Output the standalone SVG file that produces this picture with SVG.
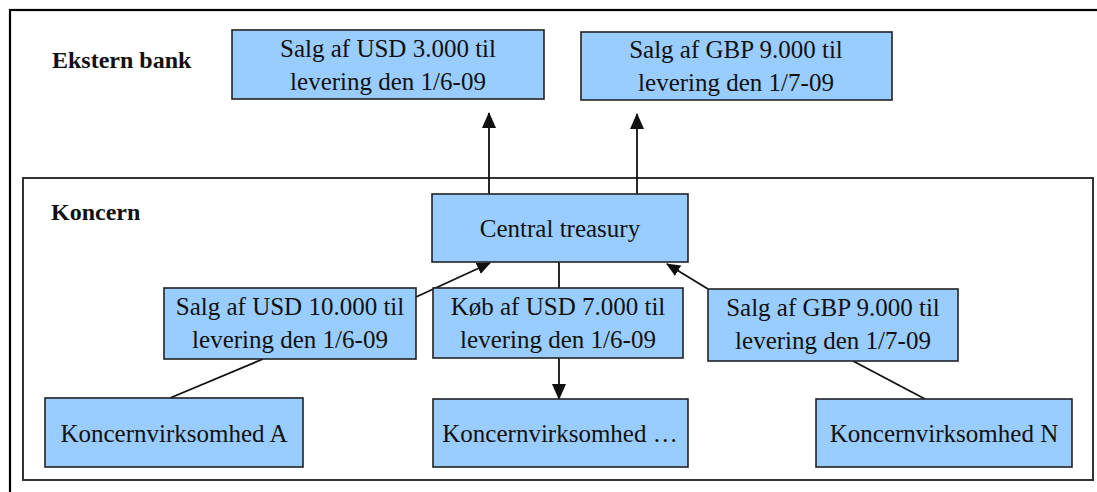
<svg xmlns="http://www.w3.org/2000/svg" width="1097" height="492" viewBox="0 0 1097 492">
<style>
.box{fill:#99CCFF;stroke:#222;stroke-width:1.6}
.t{font-family:"Liberation Serif","Times New Roman",serif;font-size:25px;fill:#111;text-anchor:middle}
.lbl{font-family:"Liberation Serif","Times New Roman",serif;font-size:24px;font-weight:bold;fill:#111}
.c{stroke:#111;stroke-width:1.8;fill:none}
</style>
<defs>
<marker id="ah" markerUnits="userSpaceOnUse" markerWidth="16" markerHeight="16" viewBox="0 0 16 16" refX="15" refY="8" orient="auto">
<path d="M0,1 L16,8 L0,15 Z" fill="#111"/>
</marker>
<marker id="ahs" markerUnits="userSpaceOnUse" markerWidth="14" markerHeight="14" viewBox="0 0 14 14" refX="13" refY="7" orient="auto">
<path d="M0,1 L14,7 L0,13 Z" fill="#111"/>
</marker>
</defs>
<rect width="1097" height="492" fill="#fff"/>
<g id="frame">
<rect x="10" y="10" width="1100" height="500" fill="none" stroke="#000" stroke-width="2.2"/>
<text class="lbl" x="52" y="68">Ekstern bank</text>
</g>
<g id="koncern">
<rect x="23" y="178" width="1070" height="302" fill="none" stroke="#333" stroke-width="2"/>
<text class="lbl" x="51" y="220">Koncern</text>
</g>
<g id="connectors">
<line class="c" x1="489" y1="194" x2="489" y2="113" marker-end="url(#ah)"/>
<line class="c" x1="637" y1="194" x2="637" y2="114" marker-end="url(#ah)"/>
<line class="c" x1="559" y1="262" x2="559" y2="288"/>
<line class="c" x1="559" y1="358" x2="559" y2="399" marker-end="url(#ah)"/>
<line class="c" x1="416" y1="297" x2="490" y2="263" marker-end="url(#ahs)"/>
<line class="c" x1="708" y1="289" x2="667" y2="264" marker-end="url(#ahs)"/>
<line class="c" x1="170" y1="398" x2="263" y2="359"/>
<line class="c" x1="853" y1="361" x2="925" y2="399"/>
</g>
<g id="bank-usd">
<rect class="box" x="232" y="30" width="312" height="69"/>
<text class="t" x="388" y="57">Salg af USD 3.000 til</text>
<text class="t" x="388" y="90">levering den 1/6-09</text>
</g>
<g id="bank-gbp">
<rect class="box" x="581" y="32" width="311" height="68"/>
<text class="t" x="736" y="58">Salg af GBP 9.000 til</text>
<text class="t" x="736" y="91">levering den 1/7-09</text>
</g>
<g id="central-treasury">
<rect class="box" x="432" y="194" width="256" height="68"/>
<text class="t" x="560" y="237">Central treasury</text>
</g>
<g id="salg-usd-10000">
<rect class="box" x="164" y="288" width="252" height="71"/>
<text class="t" x="290" y="315">Salg af USD 10.000 til</text>
<text class="t" x="290" y="348">levering den 1/6-09</text>
</g>
<g id="koeb-usd-7000">
<rect class="box" x="433" y="288" width="250" height="70"/>
<text class="t" x="558" y="315">Køb af USD 7.000 til</text>
<text class="t" x="558" y="348">levering den 1/6-09</text>
</g>
<g id="salg-gbp-9000">
<rect class="box" x="708" y="289" width="250" height="72"/>
<text class="t" x="833" y="316">Salg af GBP 9.000 til</text>
<text class="t" x="833" y="349">levering den 1/7-09</text>
</g>
<g id="virksomhed-a">
<rect class="box" x="45" y="398" width="258" height="69"/>
<text class="t" x="174" y="442">Koncernvirksomhed A</text>
</g>
<g id="virksomhed-mid">
<rect class="box" x="433" y="399" width="255" height="68"/>
<text class="t" x="560" y="442">Koncernvirksomhed …</text>
</g>
<g id="virksomhed-n">
<rect class="box" x="816" y="399" width="256" height="68"/>
<text class="t" x="944" y="442">Koncernvirksomhed N</text>
</g>
</svg>
